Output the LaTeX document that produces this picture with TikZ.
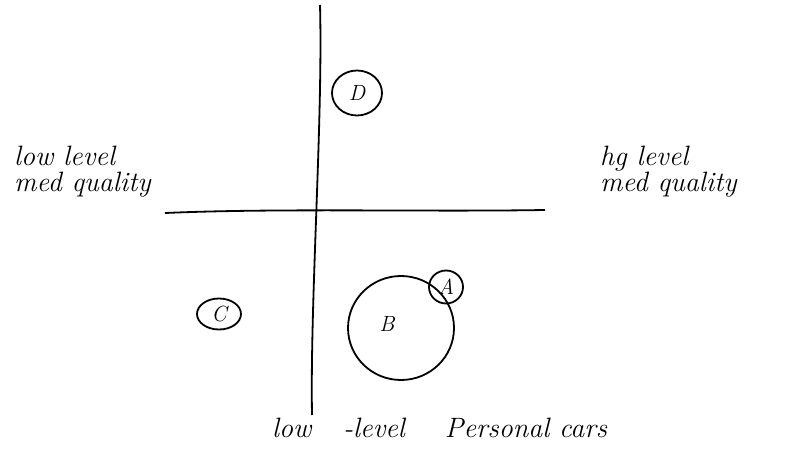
\documentclass[tikz,border=0pt]{standalone}
\usetikzlibrary{shapes.geometric}
\begin{document}
\begin{tikzpicture}[x=1pt,y=-1pt,
  hand/.style={line width=1.8pt, black},
  lbl/.style={font=\itshape\fontsize{28}{26}\selectfont, align=left, inner sep=0pt},
  blob/.style={draw, ellipse, line width=1.8pt, inner sep=0pt, font=\itshape\fontsize{22}{22}\selectfont}]
\useasboundingbox[fill=white] (0,0) rectangle (799,454);
% axes
\coordinate (vt) at (320,5);
\coordinate (vb) at (312,415);
\coordinate (hl) at (165,213);
\coordinate (hr) at (545,210);
\draw[hand] (vt) .. controls (323,120) and (310,300) .. (vb);
\draw[hand] (hl) .. controls (280,208) and (420,212) .. (hr);
% labels
\node[lbl, anchor=west] (ll) at (14,172) {low level\\med quality};
\node[lbl, anchor=west] (hh) at (600,172) {hg level\\med quality};
\node[lbl, anchor=west] (bb) at (272,428) {low\hspace{32pt}-level\hspace{40pt}Personal cars};
% circles
\node[blob, minimum width=50, minimum height=45] (D) at (357,93) {D};
\node[blob, minimum width=44, minimum height=31] (C) at (219,314) {C};
\node[blob, minimum width=106, minimum height=104] (B) at (401,328) {};
\node[font=\itshape\fontsize{22}{22}\selectfont] (Bl) at (387,324) {B};
\node[blob, minimum width=34, minimum height=33] (A) at (446,287) {A};
\end{tikzpicture}
\end{document}
